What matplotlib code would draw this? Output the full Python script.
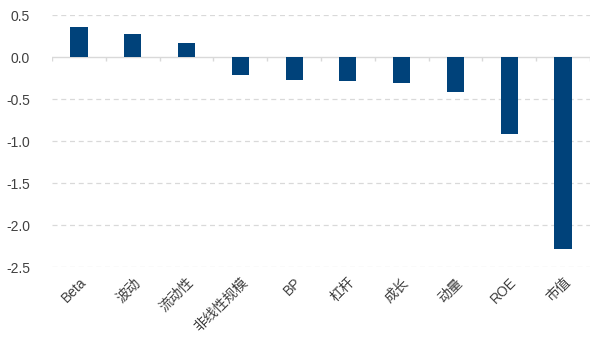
import matplotlib
matplotlib.use('Agg')
import matplotlib.pyplot as plt
import matplotlib.transforms as mtransforms
import numpy as np

plt.rcParams['font.family'] = ['Liberation Sans', 'Noto Sans CJK SC', 'DejaVu Sans']
plt.rcParams['axes.unicode_minus'] = False

# data
factors = ['Beta', '波动', '流动性', '非线性规模', 'BP', '杠杆', '成长', '动量', 'ROE', '市值']
values = [0.36, 0.28, 0.17, -0.21, -0.27, -0.28, -0.31, -0.42, -0.92, -2.28]
yticks = [0.5, 0.0, -0.5, -1.0, -1.5, -2.0, -2.5]

fig = plt.figure(figsize=(6, 3.45), dpi=100)
ax = fig.add_axes([0.087, 0.226, 0.896, 0.730])

x = np.arange(len(factors))
ax.bar(x, values, width=0.32, color='#00427A', zorder=3)

ax.set_xlim(-0.5, len(factors) - 0.5)
ax.set_ylim(-2.5, 0.5)
ax.set_yticks(yticks)
ax.set_yticklabels([f'{v:.1f}' for v in yticks])

# dashed gridlines, solid zero line
for v in yticks:
    if v != 0:
        ax.axhline(v, color='#d9d9d9', lw=0.9, ls=(0, (4, 3)), zorder=1)
ax.axhline(0, color='#d9d9d9', lw=1.0, zorder=2)

# small tick marks at category boundaries on the zero line
ax.vlines(np.arange(len(factors) + 1) - 0.5, -0.05, 0, color='#d9d9d9', lw=1.0, zorder=2)

ax.set_xticks(x)
ax.set_xticklabels(factors, rotation=45, ha='right', rotation_mode='anchor')
shift = mtransforms.ScaledTranslation(-6 / 100, 0, fig.dpi_scale_trans)
for lab in ax.get_xticklabels():
    lab.set_transform(lab.get_transform() + shift)

for s in ax.spines.values():
    s.set_visible(False)
ax.tick_params(axis='both', length=0, labelsize=10, colors='#404040')
ax.tick_params(axis='x', pad=6)
ax.tick_params(axis='y', pad=16)

fig.savefig('out.png', dpi=100)
